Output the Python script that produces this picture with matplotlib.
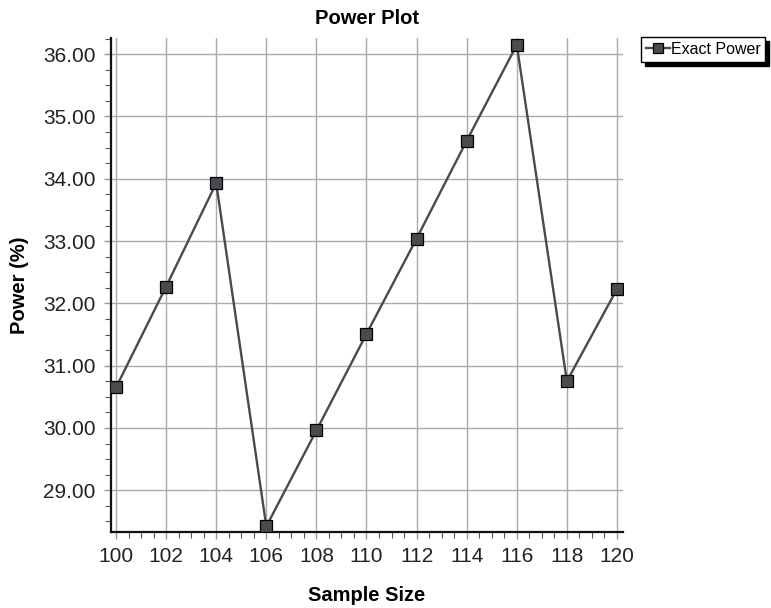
import matplotlib
matplotlib.use("Agg")
import matplotlib.pyplot as plt
from matplotlib.ticker import MultipleLocator, FormatStrFormatter

plt.rcParams['font.family'] = ['Liberation Sans', 'DejaVu Sans']

# values
sample_size = [100, 102, 104, 106, 108, 110, 112, 114, 116, 118, 120]
exact_power = [30.65, 32.27, 33.93, 28.42, 29.96, 31.51, 33.04, 34.61, 36.15, 30.75, 32.23]

fig = plt.figure(figsize=(7.71, 6.08), dpi=100)
ax = fig.add_axes([0.144, 0.125, 0.664, 0.8125])

ax.plot(sample_size, exact_power, color='#4a4a4a', lw=1.7,
        marker='s', markersize=8, markerfacecolor='#4a4a50',
        markeredgecolor='black', markeredgewidth=0.9, label='Exact Power',
        zorder=3)

ax.set_xlim(99.8, 120.24)
ax.set_ylim(28.33, 36.26)
ax.xaxis.set_major_locator(MultipleLocator(2))
ax.xaxis.set_minor_locator(MultipleLocator(0.5))
ax.yaxis.set_major_locator(MultipleLocator(1))
ax.yaxis.set_minor_locator(MultipleLocator(0.25))
ax.yaxis.set_major_formatter(FormatStrFormatter('%.2f'))

ax.grid(True, which='major', color='#aaaaaa', lw=1.0)
ax.set_axisbelow(True)

for s in ['top', 'right']:
    ax.spines[s].set_visible(False)
for s in ['left', 'bottom']:
    ax.spines[s].set_linewidth(1.6)
    ax.spines[s].set_color('#111111')

ax.tick_params(which='major', direction='out', length=5, width=1,
               color='#999999', labelsize=15, labelcolor='#222222', pad=6)
ax.tick_params(which='minor', direction='out', length=4, width=0.8, color='#555555')

ax.set_title('Power Plot', fontsize=14.5, fontweight='bold', pad=10)
ax.set_xlabel('Sample Size', fontsize=14.5, fontweight='bold', labelpad=14)
ax.set_ylabel('Power (%)', fontsize=14.5, fontweight='bold', labelpad=10)

leg = ax.legend(loc='upper left', bbox_to_anchor=(641 / 771, 1 - 37 / 608),
                bbox_transform=fig.transFigure, borderaxespad=0,
                fontsize=11.5, frameon=True, fancybox=False,
                shadow={'color': 'black', 'alpha': 1, 'ox': 3, 'oy': -3},
                handlelength=1.5, handletextpad=0.05, borderpad=0.3,
                markerscale=0.9)
leg.get_frame().set_edgecolor('black')
leg.get_frame().set_linewidth(1.0)

fig.savefig('out.png', dpi=100)
